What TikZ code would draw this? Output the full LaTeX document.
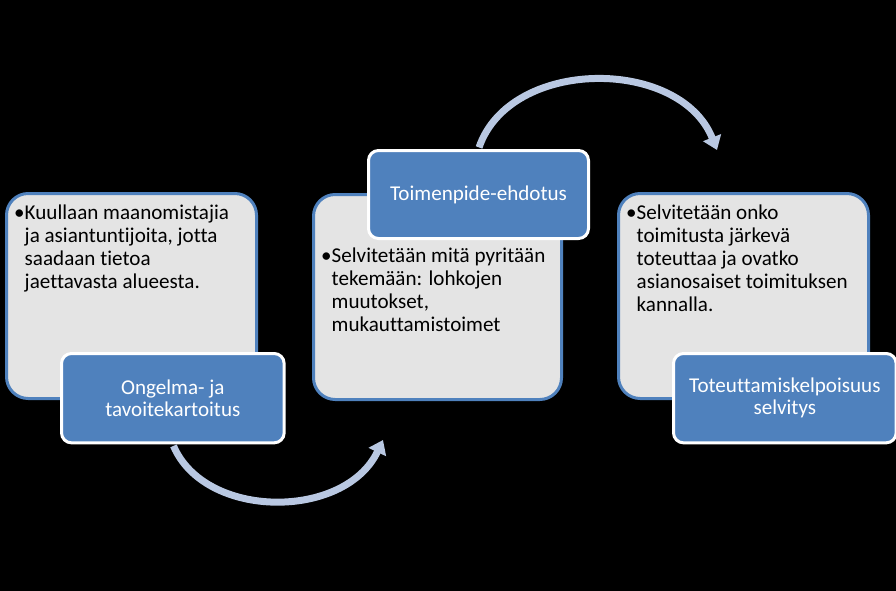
\documentclass[tikz,border=0pt]{standalone}
\usepackage{fontspec}
\setmainfont{Carlito}[Ligatures={NoCommon}]
\usetikzlibrary{arrows.meta}
\definecolor{boxblue}{RGB}{79,129,189}
\definecolor{boxgrey}{RGB}{228,228,228}
\definecolor{flowblue}{RGB}{185,200,226}
\begin{document}
\begin{tikzpicture}[x=0.3mm,y=-0.3mm,
  greybox/.style={draw=boxblue,fill=boxgrey,line width=0.9mm,rounded corners=6.5mm,anchor=north west,minimum width=75mm,minimum height=61.5mm},
  labelbox/.style={draw=white,fill=boxblue,line width=0.9mm,rounded corners=3mm,anchor=north west,minimum width=66.8mm,minimum height=26.8mm,text=white,align=center,font=\fontsize{18}{19}\selectfont},
  bodytext/.style={anchor=north west,align=left,inner sep=0pt,font=\fontsize{18}{19.6}\selectfont},
  flow/.style={flowblue,line width=2.1mm,-{Triangle[width=5.6mm,length=4mm]}}]
\useasboundingbox (0,0) rectangle (896,591);
\fill[black] (0,0) rectangle (896,591);
% grey boxes
\node[greybox] (box1) at (5,192) {};
\node[greybox,minimum width=74.4mm] (box2) at (312,193) {};
\node[greybox] (box3) at (617,192) {};
\node[bodytext] (txt1) at (14,203) {\begin{tabular}{@{}l@{}l@{}}\textbullet&Kuullaan maanomistajia\\&ja asiantuntijoita, jotta\\&saadaan tietoa\\&jaettavasta alueesta.\end{tabular}};
\node[bodytext] (txt2) at (321,246) {\begin{tabular}{@{}l@{}l@{}}\textbullet&Selvitetään mitä pyritään\\&tekemään: lohkojen\\&muutokset,\\&mukauttamistoimet\end{tabular}};
\node[bodytext] (txt3) at (626,203) {\begin{tabular}{@{}l@{}l@{}}\textbullet&Selvitetään onko\\&toimitusta järkevä\\&toteuttaa ja ovatko\\&asianosaiset toimituksen\\&kannalla.\end{tabular}};
% labels
\node[labelbox] (lab1) at (60,352) {Ongelma- ja\\tavoitekartoitus};
\node[labelbox,minimum width=66mm,minimum height=26.4mm] (lab2) at (367,149) {Toimenpide-ehdotus};
\node[labelbox] (lab3) at (672,352) {Toteuttamiskelpoisuus\\selvitys};
% arrows
\coordinate (end1) at (383,440);
\coordinate (end2) at (717,150);
\draw[flow,shorten <=0.5mm] (lab1.south) .. controls (205,520) and (345,520) .. (end1);
\draw[flow,shorten <=0.5mm] (lab2.north) .. controls (510,57) and (680,57) .. (end2);
\end{tikzpicture}
\end{document}
